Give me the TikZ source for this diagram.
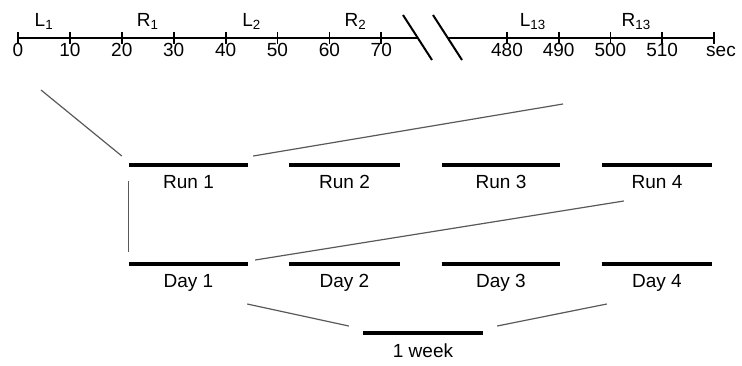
\documentclass[tikz,border=0pt]{standalone}
\usepackage{fontspec}
\setmainfont{Liberation Sans}
\usetikzlibrary{positioning, calc}

\begin{document}
\begin{tikzpicture}[x=1pt, y=1pt, font=\fontsize{19}{22}\selectfont,
    bar/.style={fill=black, inner sep=0pt, minimum height=3.5pt},
    link/.style={draw=black!65, line width=1.2pt},
    axis/.style={line width=2.2pt},
    tick/.style={line width=1.8pt}]
\useasboundingbox (0,0) rectangle (742,-365);

% time axis, first part
\draw[axis] (18,-38) -- (418,-38);
\foreach \t in {0,10,...,70} {
  \draw[tick] ({18+5.19*\t},-32) -- ++(0,-12);
  \node[anchor=base] (n\t) at ({18+5.19*\t},-56) {\t};
}
% break
\draw[line width=2pt] (403,-15) -- (432,-60);
\draw[line width=2pt] (433,-15) -- (462,-60);
% time axis, last part
\draw[axis, line width=2.8pt] (447,-38) -- (714,-38);
\foreach \t in {480,490,...,510} {
  \draw[tick] ({507+5.17*(\t-480)},-32) -- ++(0,-12);
  \node[anchor=base] (n\t) at ({507+5.17*(\t-480)},-56) {\t};
}
\draw[tick] (714,-32) -- ++(0,-12);
\node[anchor=base] (sec) at (721,-56) {sec};

% left / right intervals
\foreach \k/\t/\idx in {L/5/1, R/25/1, L/45/2, R/65/2}
  \node[anchor=base] (\k\t) at ({18+5.19*\t},-26) {\k\textsubscript{\idx}};
\node[anchor=base] (L485) at ({507+5.17*5},-26) {L\textsubscript{13}};
\node[anchor=base] (R505) at ({507+5.17*25},-26) {R\textsubscript{13}};

% runs and days
\foreach \i/\cx/\w in {1/188.5/119, 2/344.5/111, 3/501/118, 4/657/110} {
  \node[bar, minimum width=\w pt] (run\i) at (\cx,-165) {};
  \node[below=5pt of run\i] (run\i txt) {Run \i};
  \node[bar, minimum width=\w pt] (day\i) at (\cx,-264) {};
  \node[below=5pt of day\i] (day\i txt) {Day \i};
}
\node[bar, minimum width=120pt] (week) at (423,-333) {};
\node[below=5pt of week] (weektxt) {1 week};

% zoom lines
\coordinate (t0) at (41,-90);
\coordinate (t490) at (563,-104);
\draw[link] (t0) -- ($(run1.west)+(-7,9)$);
\draw[link] ($(run1.east)+(5,9)$) -- (t490);
\draw[link] ($(run1.west)+(0,-16)$) -- ($(day1.west)+(0,12)$);
\draw[link] ($(day1.east)+(7,4)$) -- ($(run4.west)+(22,-36)$);
\draw[link] ($(day1.east)+(-1,-40)$) -- ($(week.west)+(-14,7)$);
\draw[link] ($(week.east)+(14,7)$) -- ($(day4.west)+(5,-40)$);
\end{tikzpicture}
\end{document}
